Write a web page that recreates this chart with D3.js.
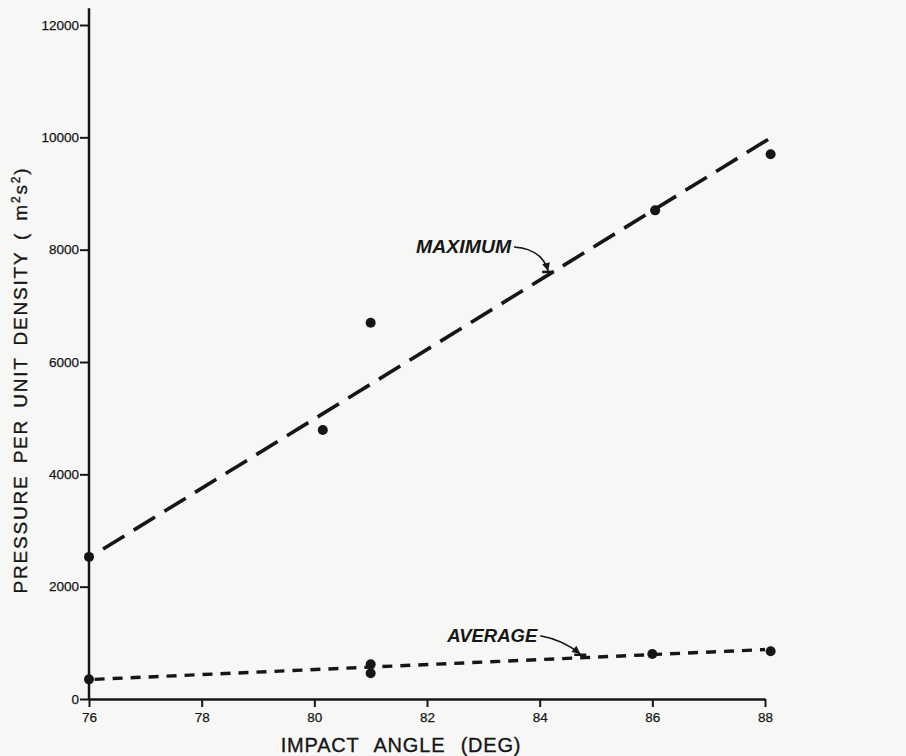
<!DOCTYPE html>
<meta charset="utf-8">
<head>
    <script type="text/javascript" src="https://cdn.jsdelivr.net/npm/d3@7/dist/d3.min.js"></script>
    <style>
        body { margin: 0; background: #f7f8f5; }
        svg { display: block; }
        text { font-family: "Liberation Sans", Arial, Helvetica, sans-serif; fill: #161616; }
        .tick text { font-size: 13.5px; stroke: #161616; stroke-width: 0.25px; }
        .title { stroke: #161616; stroke-width: 0.35px; }
    </style>
</head>

<body>
<div id="chart"></div>
</body>

<script>

    // data
    var maxAngle = [76.0, 80.15, 81.0, 86.05, 88.1];
    var maxPressure = [2530, 4790, 6700, 8700, 9700];
    var avgAngle = [76.0, 81.0, 81.0, 86.0, 88.1];
    var avgPressure = [350, 620, 460, 800, 850];

    // hand-drawn fit lines (end points)
    var maxFit = [[76.25, 2670], [88.1, 9990]];
    var avgFit = [[76.1, 350], [88.0, 880]];

    var xTicks = [76, 78, 80, 82, 84, 86, 88];
    var yTicks = [0, 2000, 4000, 6000, 8000, 10000, 12000];

    var width = 906, height = 756;
    var ink = "#161616";

    var svg = d3.select('#chart')
        .append('svg')
        .attr('width', width)
        .attr('height', height);

    var x = d3.scaleLinear().domain([76, 88]).range([89, 765]);
    var y = d3.scaleLinear().domain([0, 12000]).range([699, 25]);

    // y axis
    var yAxis = svg.append("g")
        .attr("transform", "translate(" + x(76) + ",0)")
        .call(d3.axisLeft(y).tickValues(yTicks).tickFormat(d3.format("d"))
            .tickSize(9).tickSizeOuter(0).tickPadding(1));
    yAxis.select(".domain").remove();
    yAxis.selectAll(".tick line").attr("stroke", ink).attr("stroke-width", 2);
    yAxis.append("line")
        .attr("y1", y(0)).attr("y2", y(12300))
        .attr("stroke", ink).attr("stroke-width", 2.5);

    // x axis
    var xAxis = svg.append("g")
        .attr("transform", "translate(0," + y(0) + ")")
        .call(d3.axisBottom(x).tickValues(xTicks).tickFormat(d3.format("d"))
            .tickSize(8).tickSizeOuter(0).tickPadding(3));
    xAxis.select(".domain").attr("stroke", ink).attr("stroke-width", 2.5);
    xAxis.selectAll(".tick line").attr("stroke", ink).attr("stroke-width", 2);
    xAxis.selectAll(".tick text").attr("dy", "0.9em");

    svg.selectAll(".tick text").attr("fill", ink);

    // axis titles
    svg.append("text")
        .attr("class", "title")
        .attr("x", 401).attr("y", 752)
        .attr("text-anchor", "middle")
        .style("font-size", "20px")
        .style("letter-spacing", "0.8px")
        .style("word-spacing", "9px")
        .text("IMPACT ANGLE (DEG)");

    var yTitle = svg.append("text")
        .attr("class", "title")
        .attr("transform", "translate(27,380) rotate(-90)")
        .attr("text-anchor", "middle")
        .style("font-size", "19px")
        .style("letter-spacing", "1.8px")
        .style("word-spacing", "4px");
    yTitle.append("tspan").text("PRESSURE PER UNIT DENSITY ( m");
    yTitle.append("tspan").attr("dy", -7).style("font-size", "12px").text("2");
    yTitle.append("tspan").attr("dy", 7).text("s");
    yTitle.append("tspan").attr("dy", -7).style("font-size", "12px").text("2");
    yTitle.append("tspan").attr("dy", 7).text(")");

    // fit lines
    var line = d3.line().x(d => x(d[0])).y(d => y(d[1]));

    svg.append("path")
        .attr("d", line(maxFit))
        .attr("fill", "none")
        .attr("stroke", ink)
        .attr("stroke-width", 3.6)
        .attr("stroke-dasharray", "25,11");

    svg.append("path")
        .attr("d", line(avgFit))
        .attr("fill", "none")
        .attr("stroke", ink)
        .attr("stroke-width", 3.4)
        .attr("stroke-dasharray", "10,8");

    // data points
    svg.selectAll(".maxPt")
        .data(maxAngle)
        .enter().append("circle")
        .attr("class", "maxPt")
        .attr("cx", d => x(d))
        .attr("cy", (d, i) => y(maxPressure[i]))
        .attr("r", 5)
        .attr("fill", ink);

    svg.selectAll(".avgPt")
        .data(avgAngle)
        .enter().append("circle")
        .attr("class", "avgPt")
        .attr("cx", d => x(d))
        .attr("cy", (d, i) => y(avgPressure[i]))
        .attr("r", 5)
        .attr("fill", ink);

    // arrowhead
    svg.append("defs").append("marker")
        .attr("id", "arrow")
        .attr("viewBox", "0 0 10 10")
        .attr("refX", 10).attr("refY", 5)
        .attr("markerWidth", 14).attr("markerHeight", 8)
        .attr("markerUnits", "userSpaceOnUse")
        .attr("orient", "auto")
        .append("path")
        .attr("d", "M0,0 L10,5 L0,10 z")
        .attr("fill", ink);

    function fitAt(fit, a) {
        var t = (a - fit[0][0]) / (fit[1][0] - fit[0][0]);
        return fit[0][1] + t * (fit[1][1] - fit[0][1]);
    }

    function annotate(label, fit, a, dx, dy, curve, len) {
        var tx = x(a), ty = y(fitAt(fit, a)) - 4;
        var sx = tx + dx, sy = ty + dy;
        svg.append("text")
            .attr("x", sx - 3 - len).attr("y", sy + 6)
            .attr("textLength", len)
            .attr("lengthAdjust", "spacingAndGlyphs")
            .style("font-size", "18px")
            .style("font-style", "italic")
            .style("font-weight", "bold")
            .text(label);
        svg.append("path")
            .attr("d", "M" + sx + "," + sy + " Q" + (tx - curve[0]) + "," + (sy + curve[1]) + " " + tx + "," + ty)
            .attr("fill", "none")
            .attr("stroke", ink)
            .attr("stroke-width", 1.6)
            .attr("marker-end", "url(#arrow)");
        svg.append("line")
            .attr("x1", tx - 6).attr("x2", tx + 6)
            .attr("y1", ty + 1).attr("y2", ty + 1)
            .attr("stroke", ink).attr("stroke-width", 2.5);
    }

    annotate("MAXIMUM", maxFit, 84.15, -34, -24, [6, 2], 95);
    annotate("AVERAGE", avgFit, 84.72, -40, -18, [18, 4], 90);
</script>

</html>
